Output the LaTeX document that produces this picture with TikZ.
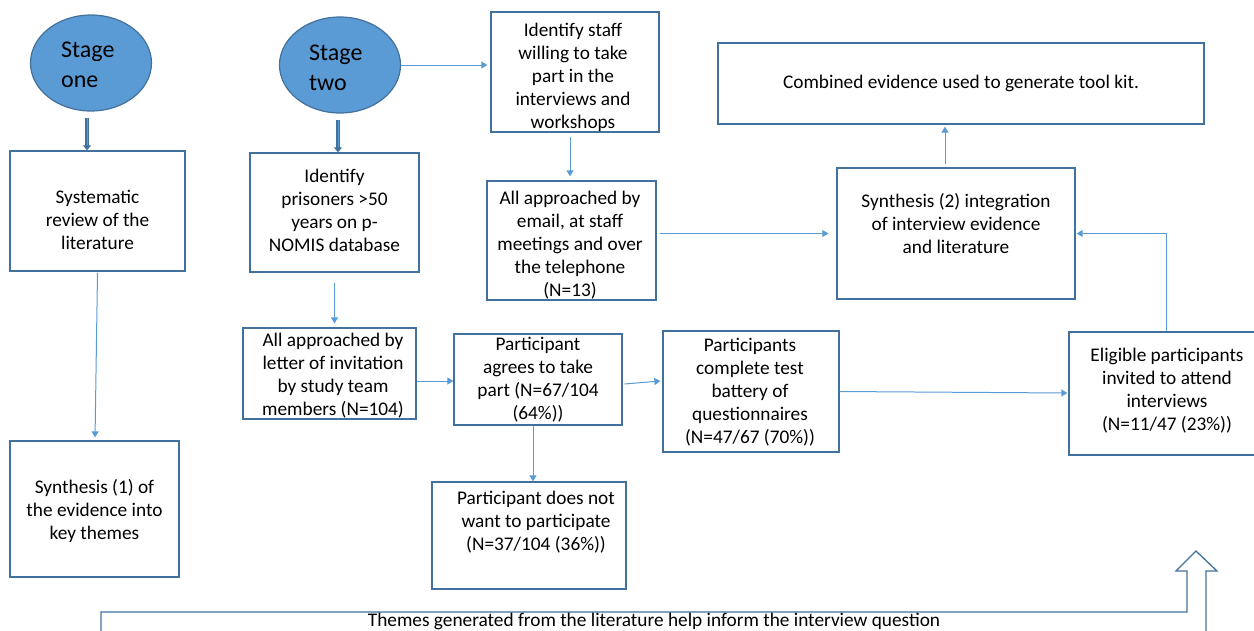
\documentclass[tikz,border=0pt]{standalone}
\usepackage{fontspec}
\setmainfont{Carlito}
\usetikzlibrary{arrows.meta,calc,shapes.geometric}
\definecolor{boxblue}{HTML}{41719C}
\definecolor{lineblue}{HTML}{5B9BD5}
\tikzset{
  box/.style={draw=boxblue,line width=1.3pt,rectangle,inner sep=0pt},
  txt/.style={align=center,inner sep=0pt,font=\fontsize{19.3}{23}\selectfont,text=black},
  stagetxt/.style={align=left,inner sep=0pt,font=\fontsize{24}{30}\selectfont,text=black,anchor=west},
  stage/.style={ellipse,draw=boxblue,fill=lineblue,line width=1.2pt,minimum width=121pt,minimum height=96pt,inner sep=0pt},
  conn/.style={draw=lineblue,line width=1pt,-{Triangle[width=7pt,length=6pt]}},
  dblout/.style={draw=boxblue,line width=3.2pt,-{Triangle[width=8pt,length=5pt]}},
  dblin/.style={draw=lineblue,line width=1pt},
}
\begin{document}
\begin{tikzpicture}[x=1pt,y=-1pt]
\path[use as bounding box] (0,0) rectangle (1254,630);
\clip (0,0) rectangle (1254,630);
% stages
\node[stage] (stage1) at (91,63) {};
\node[stagetxt] (s1t) at (61,65) {Stage\\one};
\node[stage] (stage2) at (340,65) {};
\node[stagetxt] (s2t) at (309,67.5) {Stage\\two};
% boxes
\node[box,minimum width=175pt,minimum height=120pt] (sys) at (97.5,211) {};
\node[txt] (syst) at (97.5,220) {Systematic\\review of the\\literature};
\node[box,minimum width=169pt,minimum height=119pt] (pris) at (334.5,212.5) {};
\node[txt] (prist) at (334.5,210) {Identify\\prisoners >50\\years on p-\\NOMIS database};
\node[box,minimum width=169pt,minimum height=136pt] (syn1) at (94.5,509) {};
\node[txt] (syn1t) at (94.5,511) {Synthesis (1) of\\the evidence into\\key themes};
\node[box,minimum width=168pt,minimum height=120pt] (staff) at (575,72) {};
\node[txt] (stafft) at (573,77.5) {Identify staff\\willing to take\\part in the\\interviews and\\workshops};
\node[box,minimum width=169pt,minimum height=119pt] (email) at (571.5,240.5) {};
\node[txt] (emailt) at (570,245.5) {All approached by\\email, at staff\\meetings and over\\the telephone\\(N=13)};
\node[box,minimum width=173pt,minimum height=91pt] (letter) at (329.5,373.5) {};
\node[txt] (lettert) at (333,376) {All approached by\\letter of invitation\\by study team\\members (N=104)};
\node[box,minimum width=168pt,minimum height=91pt] (agrees) at (538,379.5) {};
\node[txt] (agreest) at (538,379.5) {Participant\\agrees to take\\part (N=67/104\\(64\%))};
\node[box,minimum width=194pt,minimum height=107pt] (dnot) at (529,535.5) {};
\node[txt] (dnott) at (536,522) {Participant does not\\want to participate\\(N=37/104 (36\%))};
\node[box,minimum width=176pt,minimum height=121pt] (compl) at (751,391.5) {};
\node[txt] (complt) at (750,392) {Participants\\complete test\\battery of\\questionnaires\\(N=47/67 (70\%))};
\node[box,minimum width=196pt,minimum height=123pt] (elig) at (1167,393.5) {};
\node[txt] (eligt) at (1167,391) {Eligible participants\\invited to attend\\interviews\\(N=11/47 (23\%))};
\node[box,minimum width=238pt,minimum height=131pt] (syn2) at (956,233.5) {};
\node[txt] (syn2t) at (956,224) {Synthesis (2) integration\\of interview evidence\\and literature};
\node[box,minimum width=486pt,minimum height=81pt] (comb) at (961,83.5) {};
\node[txt] (combt) at (961,83) {Combined evidence used to generate tool kit.};
% helper coordinates for connector ends
\coordinate (s1o) at ($(stage1.south)+(-4,6)$);
\coordinate (s2o) at ($(stage2.south)+(-2,6)$);
\coordinate (stfo) at ($(staff.south)+(-5,4)$);
\coordinate (syn2o) at ($(syn2.north)+(-11,-3)$);
\coordinate (priso) at ($(pris.south)+(0,10)$);
\coordinate (agro) at ($(agrees.south)+(-5,0)$);
\coordinate (emo) at ($(email.east)+(3,0)$);
% double arrows from stages
\draw[dblout] (s1o) -- (s1o |- sys.north);
\draw[dblin] (s1o) -- ($(s1o)+(0,27)$);
\draw[dblout] (s2o) -- (s2o |- pris.north);
\draw[dblin] (s2o) -- ($(s2o)+(0,27)$);
% connectors
\draw[conn,shorten >=3pt] (stage2.east) -- (stage2.east -| staff.west);
\draw[conn,shorten >=4pt] (stfo) -- (stfo |- email.north);
\draw[conn,shorten >=8pt] (emo |- syn2.west) -- (syn2.west);
\draw[conn,shorten >=2pt] (syn2o) -- (syn2o |- comb.south);
\draw[conn,shorten >=3pt] ($(sys.south)+(0,1)$) -- ($(syn1.north)+(0.5,0)$);
\draw[conn,shorten >=4pt] (priso) -- (priso |- letter.north);
\draw[conn] ($(letter.east)+(0,7.5)$) -- ($(agrees.west)+(0,1.5)$);
\draw[conn] (agro) -- (agro |- dnot.north);
\draw[conn] ($(agrees.east)+(2,4.5)$) -- ($(compl.west)+(-2,-10.5)$);
\draw[conn] (compl.east) -- ($(elig.west)+(-1,-0.5)$);
\draw[conn,shorten >=1pt] ($(elig.north)+(-1,0)$) |- (syn2.east);
% bottom hollow arrow
\draw[draw=boxblue,line width=1.3pt,line join=miter] (101,640) -- (101,612) -- (1187,612) -- (1187,571) -- (1176,571) -- (1196,551) -- (1217,571) -- (1206,571) -- (1206,640);
\node[txt,anchor=base] (themes) at (654,626) {Themes generated from the literature help inform the interview question};
\end{tikzpicture}
\end{document}
